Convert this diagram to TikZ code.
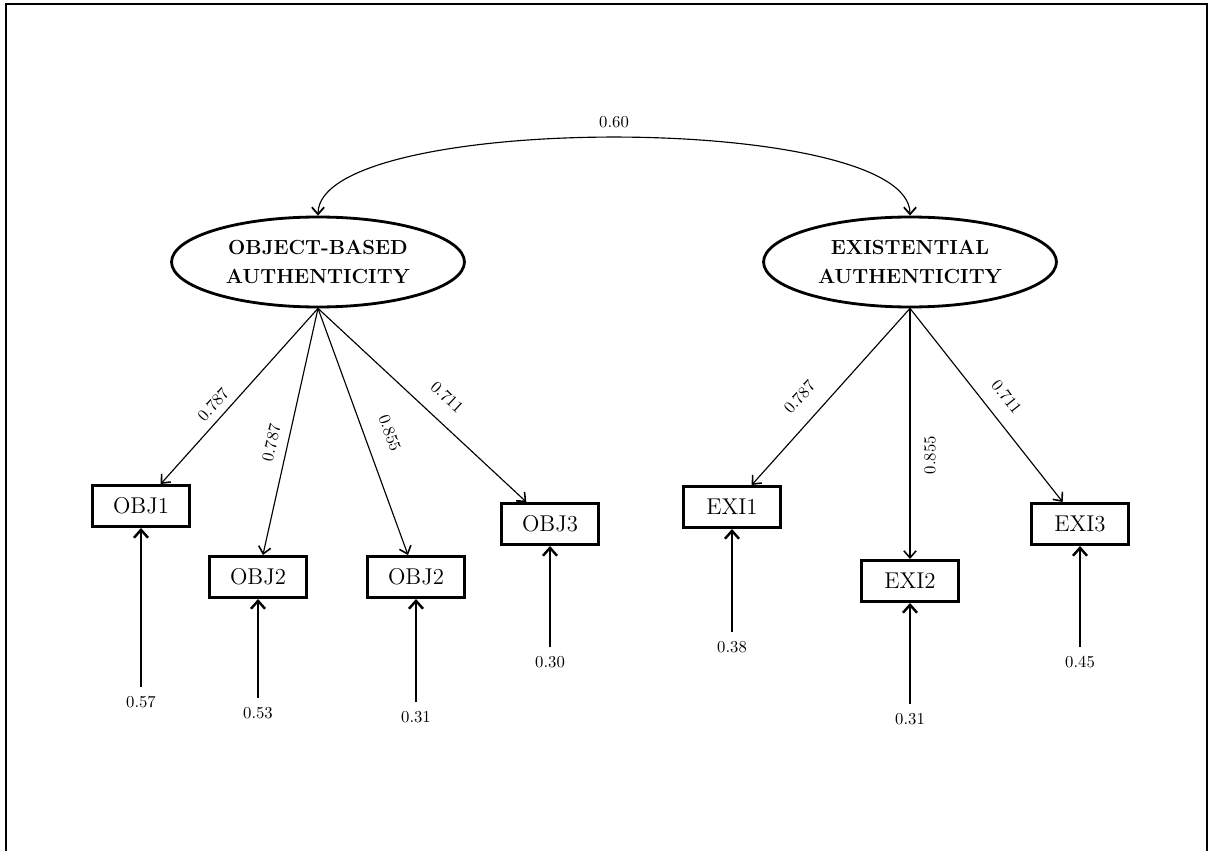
\documentclass[tikz,border=0pt]{standalone}
\usepackage{amsmath}
\usepackage{tikz}
\usetikzlibrary{arrows.meta, shapes.geometric, positioning, calc}

\begin{document}
\begin{tikzpicture}[x=0.02cm,y=-0.02cm,
        lat/.style={ellipse,draw,line width=1.6pt,inner sep=0pt,
                    minimum width=5.86cm,minimum height=1.8cm,align=center,
                    font=\fontsize{11.6}{16}\selectfont\bfseries},
        ind/.style={rectangle,draw,line width=1.7pt,inner sep=0pt,
                    minimum width=1.94cm,minimum height=0.82cm,
                    font=\fontsize{13}{15}\selectfont},
        ld/.style={line width=0.65pt,-{Straight Barb[length=4pt,width=7pt,line width=0.9pt]}},
        er/.style={line width=0.7pt,-{Straight Barb[length=4.5pt,width=8pt,line width=1.4pt]}},
        cv/.style={line width=0.65pt,{Straight Barb[length=4pt,width=7pt,line width=1pt]}-{Straight Barb[length=4pt,width=7pt,line width=1pt]}},
        lab/.style={font=\fontsize{9.5}{11}\selectfont,inner sep=1pt},
        elab/.style={font=\fontsize{9.5}{11}\selectfont,inner sep=5pt}
      ]
        \useasboundingbox (0,0) rectangle (1216,851);
        \draw[line width=1.1pt] (6,860) -- (6,4) -- (1207,4) -- (1207,860);
        % latent factors
        \node[lat] (obj) at (318,262) {OBJECT-BASED\\AUTHENTICITY};
        \node[lat] (exi) at (910,262) {EXISTENTIAL\\AUTHENTICITY};
        % indicators
        \node[ind] (obj1) at (141,506) {OBJ1};
        \node[ind] (obj2a) at (258,577) {OBJ2};
        \node[ind] (obj2b) at (416,577) {OBJ2};
        \node[ind] (obj3) at (550,524) {OBJ3};
        \node[ind] (exi1) at (732,507) {EXI1};
        \node[ind] (exi2) at (910,581) {EXI2};
        \node[ind] (exi3) at (1080,524) {EXI3};
        % error terms
        \node[elab] (e1) at (141,702) {0.57};
        \node[elab] (e2) at (258,713) {0.53};
        \node[elab] (e3) at (416,717) {0.31};
        \node[elab] (e4) at (550,662) {0.30};
        \node[elab] (e5) at (732,647) {0.38};
        \node[elab] (e6) at (910,719) {0.31};
        \node[elab] (e7) at (1080,662) {0.45};
        % correlation
        \draw[cv] (obj.north) .. controls +(0,-104) and +(0,-104) .. (exi.north)
          node[lab,pos=0.5,above=4pt] {0.60};
        % loadings
        \draw[ld] (obj.south) -- (obj1) node[lab,pos=0.6,sloped,above=3.3pt] {0.787};
        \draw[ld] (obj.south) -- (obj2a) node[lab,pos=0.56,sloped,above=4.6pt] {0.787};
        \draw[ld] (obj.south) -- (obj2b) node[lab,pos=0.54,sloped,above=9.5pt] {0.855};
        \draw[ld] (obj.south) -- (obj3) node[lab,pos=0.545,sloped,above=8.4pt] {0.711};
        \draw[ld] (exi.south) -- (exi1) node[lab,pos=0.59,sloped,above=8.5pt] {0.787};
        \draw[ld] (exi.south) -- (exi2);
        \draw[ld] (exi.south) -- (exi3) node[lab,pos=0.525,sloped,above=7.3pt] {0.711};
        \node[lab,rotate=90] (l6) at (930,455) {0.855};
        % residuals
        \draw[er] (e1) -- (obj1);
        \draw[er] (e2) -- (obj2a);
        \draw[er] (e3) -- (obj2b);
        \draw[er] (e4) -- (obj3);
        \draw[er] (e5) -- (exi1);
        \draw[er] (e6) -- (exi2);
        \draw[er] (e7) -- (exi3);
      \end{tikzpicture}
\end{document}
